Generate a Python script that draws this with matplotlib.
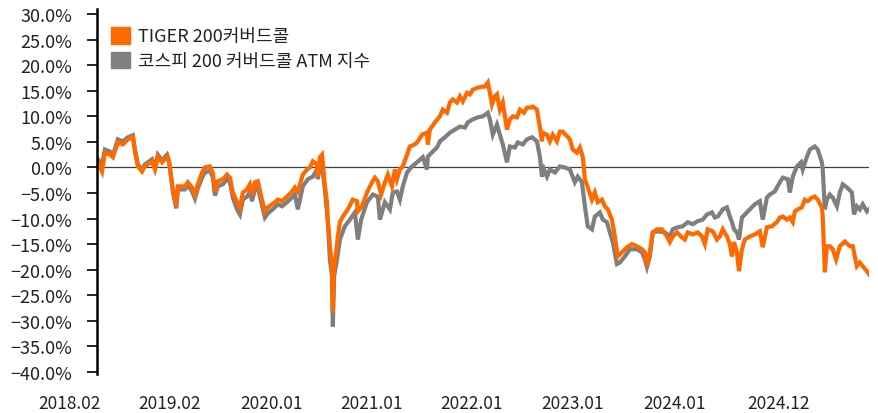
import matplotlib.pyplot as plt
from matplotlib.patches import Patch
from matplotlib.ticker import FuncFormatter
import numpy as np

plt.rcParams['font.family'] = ['Noto Sans CJK KR', 'DejaVu Sans']

# trading-day index (from 2018.02) and cumulative return (%)
tiger_day = [2, 12, 19, 31, 38, 50, 62, 74, 86, 91, 98, 108, 115, 132, 139, 146, 156, 168, 173, 182,
             190, 194, 211, 218, 228, 235, 242, 252, 259, 271, 278, 283, 290, 302, 312, 319, 326, 336, 343, 350,
             360, 367, 372, 379, 386, 396, 403, 410, 427, 434, 444, 456, 468, 475, 482, 494, 504, 511, 518, 528,
             530, 535, 540, 542, 547, 552, 554, 559, 564, 566, 569, 574, 578, 583, 590, 602, 614, 624, 626, 636,
             648, 660, 667, 674, 682, 691, 698, 708, 715, 720, 727, 734, 742, 751, 763, 770, 780, 792, 794, 799,
             811, 823, 830, 840, 847, 854, 864, 871, 878, 888, 895, 902, 914, 924, 931, 938, 943, 948, 955, 960,
             967, 974, 984, 991, 998, 1008, 1015, 1025, 1032, 1039, 1046, 1056, 1063, 1068, 1070, 1080, 1087, 1094, 1104, 1111,
             1118, 1128, 1135, 1142, 1152, 1159, 1166, 1171, 1178, 1188, 1195, 1202, 1212, 1219, 1226, 1236, 1243, 1250, 1260, 1272,
             1284, 1296, 1308, 1315, 1320, 1327, 1334, 1344, 1356, 1368, 1375, 1382, 1392, 1404, 1411, 1418, 1430, 1442, 1452, 1459,
             1466, 1478, 1488, 1495, 1502, 1512, 1519, 1524, 1529, 1536, 1541, 1548, 1555, 1567, 1579, 1591, 1598, 1608, 1620, 1632,
             1639, 1646, 1656, 1663, 1670, 1675, 1682, 1692, 1699, 1706, 1716, 1723, 1730, 1740, 1742, 1747, 1752, 1759, 1766, 1774,
             1783, 1795, 1807, 1814, 1824, 1831, 1838, 1848, 1853]
tiger_ret = [1.0, -0.8, 2.9, 2.5, 2.0, 4.9, 4.5, 5.5, 5.9, 3.1, 0.2, -0.8, 0.2, 1.2, -0.4, 2.1, 1.0, 2.1, 1.0, -4.3,
             -7.6, -3.7, -3.7, -2.9, -3.9, -5.3, -3.3, -1.0, 0.0, 0.2, -1.0, -4.7, -2.7, -2.3, -1.4, -2.0, -4.9, -6.8, -7.8, -4.9,
             -4.3, -3.3, -5.3, -2.9, -2.7, -6.3, -8.6, -7.8, -6.8, -6.3, -6.6, -5.7, -4.7, -3.9, -4.7, -1.4, -0.4, 0.0, 1.2, 0.6,
             -1.8, 2.0, 2.5, 1.0, -3.7, -6.8, -10.2, -15.4, -19.3, -28.3, -19.3, -16.6, -13.5, -10.7, -9.6, -8.2, -6.3, -6.6, -8.6, -7.6,
             -4.9, -2.9, -2.0, -2.7, -5.3, -2.9, -1.4, -3.7, -0.4, -2.3, -0.4, 0.2, 2.0, 4.1, 4.5, 5.1, 6.4, 6.8, 4.5, 7.4,
             8.8, 10.0, 11.3, 10.7, 12.7, 13.3, 12.7, 13.9, 12.9, 14.6, 14.3, 15.2, 15.6, 15.8, 15.8, 16.6, 14.6, 12.3, 13.9, 14.3,
             11.3, 12.7, 7.4, 9.4, 10.0, 9.8, 11.3, 10.7, 11.7, 11.7, 11.9, 11.3, 7.8, 5.1, 6.8, 6.4, 5.1, 6.4, 5.1, 7.0,
             7.0, 6.1, 5.5, 3.5, 2.9, 3.9, 2.1, -2.3, -3.9, -6.3, -4.9, -6.8, -6.3, -7.6, -8.2, -10.2, -13.5, -17.4, -16.6, -15.6,
             -15.0, -15.4, -16.0, -16.6, -19.3, -16.6, -12.7, -12.1, -12.1, -13.5, -14.6, -13.5, -12.7, -13.7, -14.1, -12.7, -13.1, -12.7, -13.5, -15.0,
             -12.1, -12.5, -14.1, -13.5, -12.1, -13.5, -15.0, -17.4, -14.6, -16.6, -20.3, -16.0, -14.1, -13.5, -13.1, -12.5, -15.6, -11.7, -11.5, -10.7,
             -9.8, -9.6, -10.2, -9.8, -10.7, -8.6, -8.2, -7.8, -6.3, -6.6, -5.9, -5.7, -6.3, -7.8, -9.6, -20.5, -15.4, -15.4, -16.0, -18.0,
             -15.4, -14.5, -15.4, -15.4, -19.3, -18.6, -19.3, -20.3, -20.9]

index_day = [2, 12, 19, 31, 38, 50, 62, 74, 86, 91, 98, 108, 115, 132, 139, 146, 156, 168, 173, 182,
             190, 194, 211, 218, 228, 235, 242, 252, 259, 271, 278, 283, 290, 302, 312, 319, 326, 336, 343, 350,
             360, 367, 372, 379, 386, 396, 403, 410, 427, 434, 444, 456, 468, 475, 482, 494, 506, 518, 528, 530,
             535, 542, 547, 554, 559, 564, 566, 569, 576, 583, 595, 607, 619, 626, 634, 648, 662, 674, 679, 691,
             703, 710, 720, 727, 734, 744, 756, 768, 782, 792, 794, 806, 816, 823, 835, 847, 859, 871, 883, 890,
             902, 914, 926, 938, 943, 950, 960, 967, 974, 984, 991, 1003, 1010, 1022, 1032, 1044, 1056, 1063, 1068, 1073,
             1080, 1087, 1099, 1111, 1123, 1135, 1147, 1154, 1164, 1171, 1178, 1188, 1195, 1207, 1214, 1224, 1231, 1238, 1248, 1255,
             1267, 1279, 1296, 1308, 1315, 1320, 1327, 1334, 1346, 1363, 1375, 1382, 1394, 1406, 1418, 1430, 1442, 1454, 1464, 1476,
             1483, 1490, 1502, 1512, 1519, 1524, 1529, 1536, 1541, 1548, 1555, 1567, 1579, 1591, 1598, 1608, 1615, 1627, 1639, 1646,
             1658, 1663, 1670, 1680, 1690, 1694, 1704, 1711, 1723, 1730, 1740, 1742, 1747, 1752, 1759, 1766, 1776, 1783, 1790, 1800,
             1812, 1817, 1824, 1831, 1838, 1848, 1853]
index_ret = [1.6, 0.6, 3.5, 3.1, 2.3, 5.5, 5.1, 5.9, 6.3, 3.5, 0.6, -0.4, 0.6, 1.6, 0.0, 2.5, 1.4, 2.5, 1.2, -4.7,
             -8.0, -4.3, -4.3, -3.5, -4.7, -6.1, -4.1, -2.0, -1.0, -0.6, -2.0, -5.5, -3.7, -3.3, -2.3, -2.9, -5.9, -8.2, -9.2, -6.3,
             -5.7, -4.7, -6.6, -4.3, -3.9, -7.4, -9.8, -9.0, -7.8, -7.2, -7.6, -6.8, -5.9, -5.3, -8.2, -3.7, -2.3, -1.8, -0.4, -2.3,
             0.6, -1.0, -4.3, -10.7, -18.0, -21.3, -31.1, -21.3, -18.0, -14.1, -11.5, -10.2, -8.8, -14.1, -10.2, -6.8, -5.3, -5.7, -10.2, -6.8,
             -8.2, -4.9, -4.7, -6.3, -3.7, -1.0, 0.2, 1.0, 2.0, -0.4, 2.1, 3.1, 3.9, 5.1, 5.9, 6.8, 7.4, 8.0, 7.8, 8.8,
             9.4, 9.8, 10.0, 10.7, 9.4, 6.4, 8.4, 6.4, 4.5, 1.0, 4.1, 3.9, 4.9, 4.5, 5.5, 5.9, 5.1, 2.1, -1.8, -0.4,
             -1.8, -0.4, -1.0, 0.2, 0.0, -0.4, -2.9, -1.8, -2.9, -7.6, -11.5, -12.1, -9.6, -8.8, -10.2, -10.7, -12.7, -14.6, -18.9, -18.6,
             -17.4, -16.0, -16.0, -16.6, -18.0, -19.5, -17.4, -12.7, -12.5, -12.7, -13.5, -12.1, -11.7, -11.5, -10.7, -11.1, -10.5, -10.2, -9.2, -8.8,
             -9.8, -9.6, -8.2, -7.8, -9.6, -10.7, -12.1, -12.7, -14.1, -9.8, -9.2, -8.2, -7.2, -6.6, -10.2, -5.9, -5.3, -4.7, -2.9, -2.0,
             -2.3, -4.9, -1.8, 0.2, 1.0, -0.4, 2.1, 3.5, 4.1, 3.5, 1.0, -0.4, -8.2, -6.3, -5.3, -5.9, -7.6, -4.9, -3.3, -3.9,
             -4.9, -9.2, -7.6, -8.2, -7.2, -8.6, -8.2]

xtick_day = [-65, 175, 419, 658, 900, 1142, 1387, 1637]
xtick_labels = ['2018.02', '2019.02', '2020.01', '2021.01', '2022.01', '2023.01', '2024.01', '2024.12']
yticks = np.arange(-40, 31, 5)

orange = '#FF6A00'
grey = '#7F7F7F'

fig = plt.figure(figsize=(8.79, 4.14), dpi=100)
ax = fig.add_axes([0.1104, 0.0942, 0.8782, 0.8818])

ax.plot(index_day, index_ret, color=grey, lw=3.0, solid_joinstyle='miter')
ax.plot(tiger_day, tiger_ret, color=orange, lw=3.0, solid_joinstyle='miter')
ax.axhline(0, color='#404040', lw=0.9, zorder=1)

ax.set_xlim(0, 1853)
ax.set_ylim(-40.4, 31)
ax.set_yticks(yticks)
ax.yaxis.set_major_formatter(FuncFormatter(lambda v, p: f'{v:.1f}%'.replace('-', '\u2212')))
ax.tick_params(axis='y', direction='out', length=7, width=1.2, color='black',
               labelsize=13, labelcolor='#222222', pad=11)
ax.set_xticks([])
for s in ['top', 'right', 'bottom']:
    ax.spines[s].set_visible(False)
ax.spines['left'].set_linewidth(1.8)

for d, lab in zip(xtick_day, xtick_labels):
    ax.text(d, -0.055, lab, transform=ax.get_xaxis_transform(), ha='center', va='top',
            fontsize=12.5, color='#222222', clip_on=False)

handles = [Patch(color=orange, label='TIGER 200커버드콜'),
           Patch(color=grey, label='코스피 200 커버드콜 ATM 지수')]
fig.legend(handles=handles, loc='upper left', bbox_to_anchor=(0.108, 0.972), frameon=False,
           fontsize=13, handlelength=1.05, handleheight=1.05, handletextpad=0.45, labelspacing=0.35,
           labelcolor='#222222')

fig.savefig('out.png', dpi=100)
